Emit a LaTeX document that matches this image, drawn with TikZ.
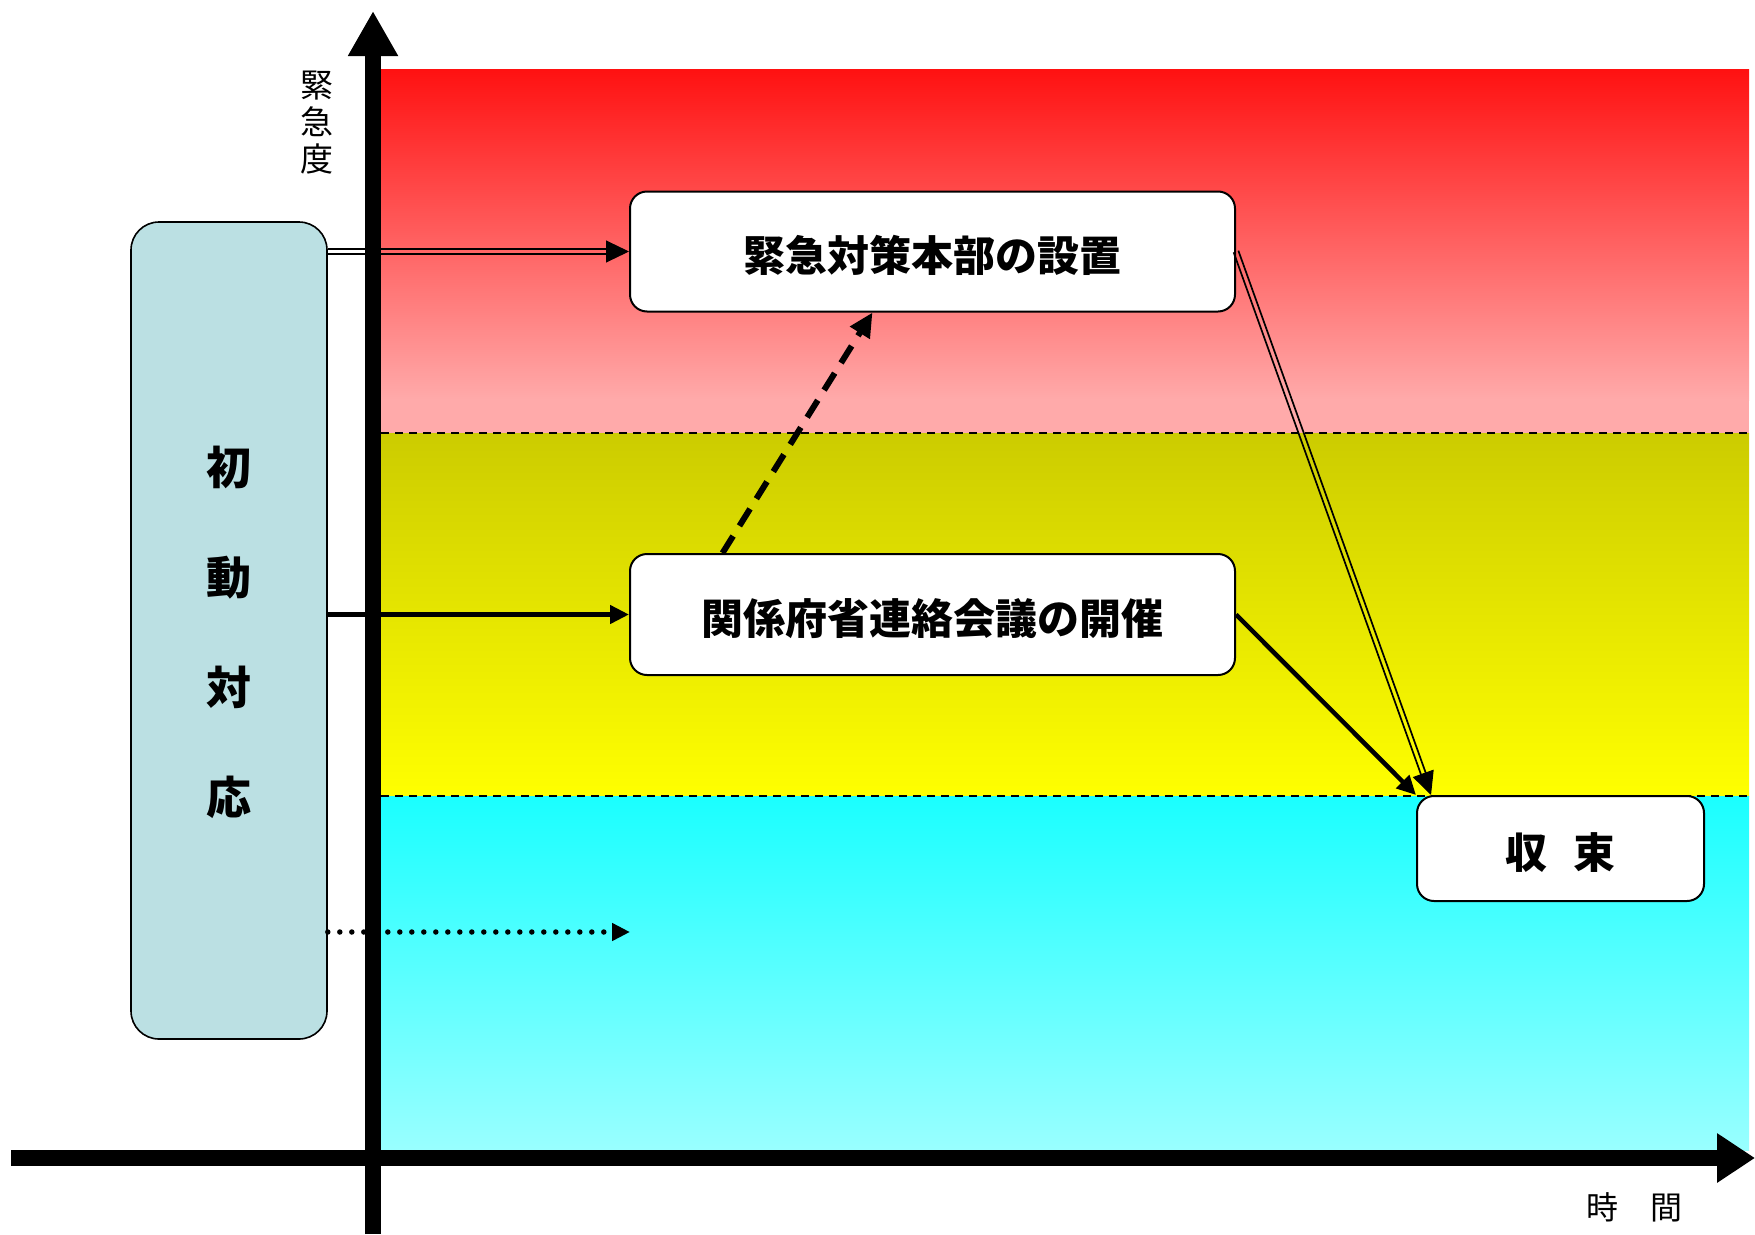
\documentclass[tikz,border=0pt]{standalone}
\usepackage{fontspec}
\setmainfont{Noto Sans CJK JP}
\usetikzlibrary{arrows.meta,calc}
\definecolor{initblue}{HTML}{BBE0E3}
\definecolor{bandRa}{HTML}{FF1111}
\definecolor{bandRb}{HTML}{FFAAAA}
\definecolor{bandYa}{HTML}{CCCC00}
\definecolor{bandYb}{HTML}{FFFF00}
\definecolor{bandCa}{HTML}{1AFFFF}
\definecolor{bandCb}{HTML}{99FFFF}
\newcommand{\lowertext}[2][-4pt]{\raisebox{#1}[\height][\depth]{#2}}
\begin{document}
\begin{tikzpicture}[x=1pt,y=-1pt,
  box/.style={draw=black, line width=2pt, fill=white, rounded corners=17pt, inner sep=0pt, font=\bfseries\fontsize{42}{50}\selectfont},
  initbox/.style={draw=black, line width=1.6pt, fill=initblue, rounded corners=28pt, inner sep=0pt, align=center, font=\bfseries\fontsize{45}{110}\selectfont},
  axis/.style={line width=16pt, draw=black},
  level/.style={draw=black, line width=2.4pt, dash pattern=on 8pt off 6pt},
  solidarrow/.style={line width=4.5pt, -{Triangle[length=19pt,width=18pt]}},
  dasharrow/.style={line width=6pt, dash pattern=on 20pt off 12pt, -{Triangle[length=24pt,width=22pt]}},
  dotarrow/.style={line width=5.5pt, line cap=round, dash pattern=on 0pt off 12pt, -{Triangle[length=18pt,width=17pt]}},
  dblline/.style={line width=1.7pt},
  dblhead/.style={line width=1pt, -{Triangle[length=23pt,width=22pt]}},
  label/.style={inner sep=0pt, align=center, font=\fontsize{33}{37}\selectfont},
]
\useasboundingbox (0,0) rectangle (1755,1234);
% bands
\shade[top color=bandRa, bottom color=bandRb] (381,69) rectangle (1749,400);
\fill[bandRb] (381,399.5) rectangle (1749,433);
\shade[top color=bandYa, bottom color=bandYb] (381,433) rectangle (1749,796);
\shade[top color=bandCa, bottom color=bandCb] (381,796) rectangle (1749,1150);
\coordinate (l1a) at (381,433); \coordinate (l1b) at (1749,433);
\coordinate (l2a) at (381,796); \coordinate (l2b) at (1749,796);
\draw[level] (l1a) -- (l1b);
\draw[level] (l2a) -- (l2b);
% axes
\coordinate (ybot) at (373,1234); \coordinate (ytop) at (373,11);
\draw[axis, -{Triangle[length=45pt,width=47pt]}] (ybot) -- (ytop);
\coordinate (xl) at (11,1158); \coordinate (xr) at (1755,1158);
\draw[axis, -{Triangle[length=38pt,width=47pt]}] (xl) -- (xr);
% labels
\node[label] (ylab) at (317,123) {緊\\急\\度};
\node[label, font=\fontsize{32}{37}\selectfont] (xlab) at (1634,1207) {時　間};
% boxes
\node[initbox, minimum width=196pt, minimum height=817pt] (init) at (229,630.5) {\lowertext[-1.5pt]{初}\\\lowertext[-1.5pt]{動}\\\lowertext[-1.5pt]{対}\\\lowertext[-1.5pt]{応}};
\node[box, minimum width=605pt, minimum height=120pt] (b1) at (932.5,251.5) {\lowertext{緊急対策本部の設置}};
\node[box, minimum width=605pt, minimum height=121pt] (b2) at (932.5,614.5) {\lowertext{関係府省連絡会議の開催}};
\node[box, minimum width=287pt, minimum height=105pt] (b3) at (1560.5,848.5) {\lowertext{収\hspace{27pt}束}};
% double arrow 1
\coordinate (d1s) at (init.east |- b1.west);
\coordinate (d1e) at ($(b1.west)!22pt!(d1s)$);
\draw[dblline] ($(d1s)!2.5pt!90:(b1.west)$) -- ($(d1e)!2.5pt!-90:(d1s)$);
\draw[dblline] ($(d1s)!2.5pt!-90:(b1.west)$) -- ($(d1e)!2.5pt!90:(d1s)$);
\draw[dblhead] (d1e) -- (b1.west);
% solid arrow 1
\draw[solidarrow] (init.east |- b2.west) -- (b2.west);
% dotted arrow
\coordinate (dotend) at (630,932);
\draw[dotarrow] (init.east |- dotend) -- (dotend);
% dashed arrow
\draw[dasharrow] ([xshift=-210pt]b2.north) -- ([xshift=-60pt]b1.south);
% double arrow 2
\coordinate (t2) at ([xshift=15pt]b3.north west);
\coordinate (d2e) at ($(t2)!22pt!(b1.east)$);
\draw[dblline] ($(b1.east)!2.5pt!90:(t2)$) -- ($(d2e)!2.5pt!-90:(b1.east)$);
\draw[dblline] ($(b1.east)!2.5pt!-90:(t2)$) -- ($(d2e)!2.5pt!90:(b1.east)$);
\draw[dblhead] (d2e) -- (t2);
% solid arrow 2
\draw[solidarrow] (b2.east) -- (b3.north west);
\end{tikzpicture}
\end{document}
